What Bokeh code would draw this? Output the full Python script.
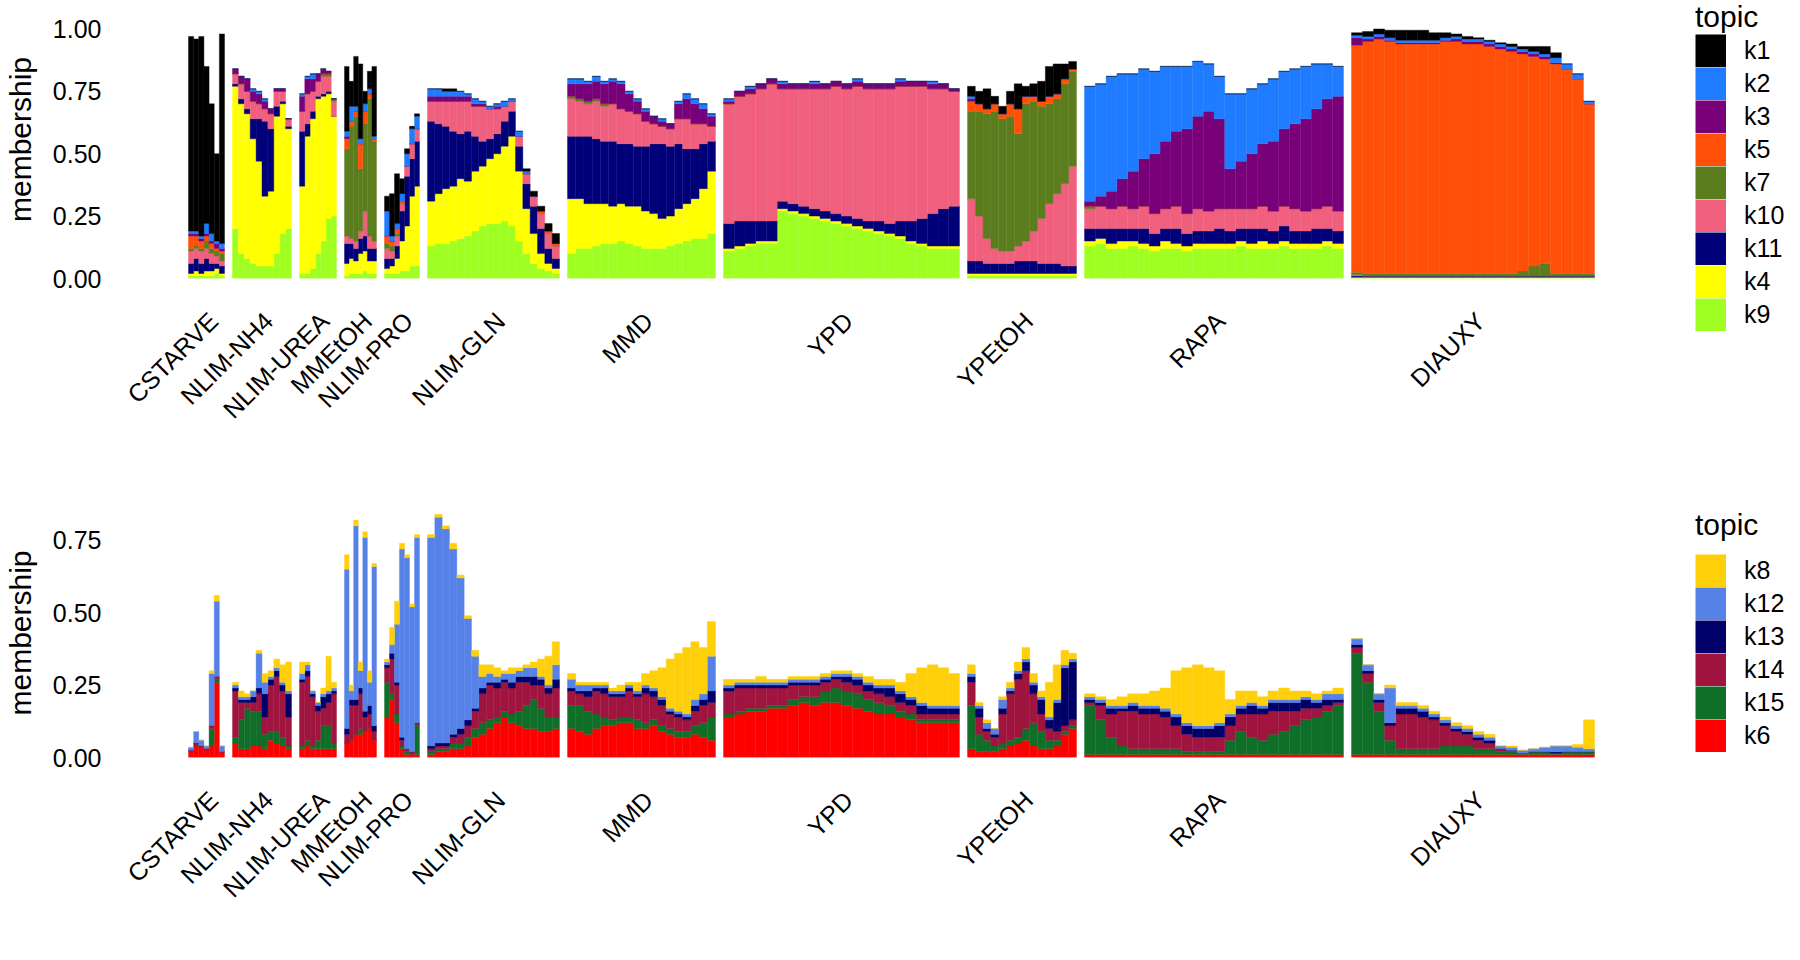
from math import pi
from bokeh.plotting import figure
from bokeh.models import Range1d, FixedTicker, Legend, LegendItem, NumeralTickFormatter, ColumnDataSource
from bokeh.layouts import column
from bokeh.embed import file_html
from bokeh.resources import INLINE

# ---------------- categories ----------------
groups = ["CSTARVE", "NLIM-NH4", "NLIM-UREA", "MMEtOH", "NLIM-PRO", "NLIM-GLN",
          "MMD", "YPD", "YPEtOH", "RAPA", "DIAUXY"]
group_sizes = [36, 59, 37, 32, 35, 132, 148, 236, 109, 259, 243]   # relative number of cells
group_gap = 8

# stacking order (bottom -> top) and legend order
top_stack = ["k9", "k4", "k11", "k10", "k7", "k5", "k3", "k2", "k1"]
top_legend = ["k1", "k2", "k3", "k5", "k7", "k10", "k11", "k4", "k9"]
bot_stack = ["k6", "k15", "k14", "k13", "k12", "k8"]
bot_legend = ["k8", "k12", "k13", "k14", "k15", "k6"]

topic_colors = {
    "k1": "#000000", "k2": "#1f7bff", "k3": "#780078", "k5": "#ff4f08",
    "k7": "#5b7d1e", "k10": "#f0607e", "k11": "#000078", "k4": "#ffff00",
    "k9": "#a0ff22", "k8": "#ffd00a", "k12": "#5682e8", "k13": "#000068",
    "k14": "#a0153f", "k15": "#0f6f28", "k6": "#ff0000",
}

# ---------------- top panel memberships: each row = one bar [k9,k4,k11,k10,k7,k5,k3,k2,k1] ----------------
top_CSTARVE = [
    [.01,.01,.04,.05,.01,.05,.01,.01,.78],
    [.01,.02,.05,.04,.01,.04,.01,.01,.77],
    [.01,.01,.04,.05,.01,.03,.01,.01,.80],
    [.01,.02,.05,.04,.03,.02,.01,.04,.63],
    [.01,.02,.03,.04,.02,.02,.01,.03,.52],
    [.02,.02,.02,.03,.02,.01,.02,.01,.35],
    [.01,.01,.03,.02,.03,.01,.01,.02,.84],
]
top_NH4 = [
    [.20,.57,.01,.04,0,0,.02,0,0],
    [.10,.60,.02,.06,0,0,.03,0,0],
    [.08,.58,.02,.07,0,0,.05,0,0],
    [.06,.50,.08,.07,0,0,.04,.01,0],
    [.05,.42,.17,.06,0,0,.04,.01,0],
    [.05,.28,.30,.05,0,0,.03,.01,0],
    [.05,.30,.25,.06,0,0,.02,0,0],
    [.10,.55,.04,.06,0,0,.01,0,0],
    [.18,.52,.01,.04,0,0,.01,0,0],
    [.20,.40,.01,.03,0,0,0,0,0],
]
top_UREA = [
    [.02,.35,.22,.08,0,0,.06,.01,0],
    [.02,.55,.05,.12,0,0,.06,.01,0],
    [.04,.60,.03,.08,0,0,.05,.02,0],
    [.10,.62,.01,.06,0,0,.03,0,0],
    [.15,.58,.01,.07,.01,0,.02,0,0],
    [.24,.50,.01,.06,.01,0,.01,0,0],
    [.25,.40,0,.06,.01,0,0,0,0],
]
top_MMEtOH = [
    [.01,.05,.08,.03,.35,.04,.01,.02,.26],
    [.02,.06,.06,.02,.45,.02,0,.06,.10],
    [.02,.05,.05,.03,.50,.02,0,.02,.20],
    [.02,.08,.06,.03,.25,.10,0,.02,.30],
    [.03,.08,.06,.10,.35,.05,0,.03,.05],
    [.02,.05,.05,.05,.55,.02,0,.02,.07],
    [.02,.05,.05,.03,.40,.01,0,.01,.28],
]
top_PRO = [
    [.02,.02,.04,.04,.02,.03,0,.10,.06],
    [.02,.03,.03,.03,.02,.02,0,.02,.17],
    [.02,.06,.05,.04,.01,.02,0,.02,.20],
    [.03,.12,.12,.03,0,.01,0,.03,.06],
    [.03,.18,.20,.04,0,0,0,.05,.02],
    [.05,.28,.15,.06,0,0,0,.06,.01],
    [.05,.32,.18,.05,0,0,0,.05,.01],
]
top_GLN = [
    [.13,.18,.32,.08,0,0,.02,.03,0],
    [.14,.20,.28,.09,0,0,.02,.03,0],
    [.14,.22,.25,.10,0,0,.02,.02,.01],
    [.15,.22,.22,.12,0,0,.02,.02,.01],
    [.16,.24,.18,.13,0,0,.02,.02,0],
    [.17,.22,.20,.12,0,0,.02,.01,0],
    [.19,.24,.14,.12,0,0,.01,.02,0],
    [.21,.24,.10,.14,0,0,.01,.01,0],
    [.22,.26,.08,.12,0,0,0,.01,0],
    [.22,.28,.08,.10,0,0,.01,.01,0],
    [.23,.30,.10,.06,0,0,0,.02,0],
    [.21,.36,.10,.04,0,0,0,.01,0],
    [.15,.28,.10,.04,0,0,0,.02,0],
    [.10,.18,.10,.04,0,0,0,.01,.01],
    [.06,.12,.11,.04,0,0,0,0,.02],
    [.04,.06,.10,.06,0,.01,0,0,.02],
    [.03,.03,.06,.06,0,.01,0,0,.03],
    [.02,.02,.04,.05,0,.01,0,0,.04],
]
top_MMD = [
    [.10,.22,.25,.15,.01,0,.05,.02,0],
    [.12,.20,.25,.14,.01,0,.06,.02,0],
    [.12,.18,.27,.13,.01,0,.07,.01,0],
    [.13,.17,.26,.15,.01,0,.07,.02,0],
    [.14,.16,.25,.14,.01,0,.08,.01,0],
    [.14,.15,.26,.15,0,0,.09,.01,0],
    [.15,.15,.24,.14,0,0,.10,.01,0],
    [.14,.15,.25,.13,0,0,.07,.01,0],
    [.13,.16,.24,.13,0,0,.05,.01,0],
    [.12,.15,.26,.10,0,0,.04,.01,0],
    [.12,.14,.28,.08,0,0,.03,0,0],
    [.12,.12,.30,.07,0,0,.02,.01,0],
    [.13,.12,.28,.07,0,0,.02,0,0],
    [.14,.14,.26,.10,0,0,.06,.01,0],
    [.15,.15,.22,.12,0,0,.08,.02,0],
    [.16,.16,.20,.10,0,0,.08,.02,0],
    [.16,.20,.18,.08,0,0,.06,.02,0],
    [.18,.25,.12,.06,0,0,.04,.01,0],
]
top_YPD = [
    [.11,.01,.10,.48,0,0,.01,.01,0],
    [.12,.01,.10,.50,0,0,.02,0,0],
    [.13,.01,.09,.51,0,0,.02,.01,0],
    [.14,.01,.08,.53,0,0,.02,0,0],
    [.14,.01,.08,.55,0,0,.02,0,0],
    [.27,.01,.03,.45,0,0,.02,.01,0],
    [.26,.01,.03,.46,0,0,.02,0,0],
    [.25,.01,.03,.47,0,0,.02,0,0],
    [.24,.01,.03,.48,0,0,.02,.01,0],
    [.23,.01,.03,.49,0,0,.02,0,0],
    [.22,.01,.03,.51,0,0,.02,0,0],
    [.21,.01,.03,.51,0,0,.02,0,0],
    [.20,.01,.03,.53,0,0,.02,.01,0],
    [.19,.01,.03,.53,0,0,.02,0,0],
    [.18,.01,.04,.53,0,0,.02,0,0],
    [.17,.01,.04,.54,0,0,.02,0,0],
    [.16,.01,.06,.54,0,0,.02,.01,0],
    [.14,.01,.08,.54,0,0,.02,0,0],
    [.13,.01,.10,.53,0,0,.02,0,0],
    [.12,.01,.13,.50,0,0,.02,.01,0],
    [.12,.01,.15,.48,0,0,.02,0,0],
    [.12,.01,.16,.46,0,0,.01,0,0],
]
top_YPEtOH = [
    [.01,.01,.05,.25,.35,.04,.01,.01,.04],
    [.01,.01,.05,.18,.42,.03,0,0,.05],
    [.01,.01,.04,.10,.50,.02,0,0,.08],
    [.01,.01,.04,.06,.55,.03,0,0,.03],
    [.01,.01,.04,.05,.53,.02,0,0,.03],
    [.01,.01,.04,.05,.54,.05,0,0,.05],
    [.01,.01,.05,.06,.45,.10,0,0,.10],
    [.01,.01,.05,.08,.55,.03,0,0,.04],
    [.01,.01,.05,.12,.52,.02,0,0,.05],
    [.01,.01,.04,.18,.45,.02,0,0,.08],
    [.01,.01,.04,.24,.40,.03,0,0,.12],
    [.01,.01,.04,.28,.38,.02,0,0,.12],
    [.01,.01,.03,.33,.40,.02,0,0,.06],
    [.01,.01,.03,.40,.38,.01,0,0,.03],
]
top_RAPA = [
    [.13,.02,.05,.08,.01,0,.02,.46,0],
    [.14,.02,.04,.09,0,0,.04,.45,0],
    [.12,.02,.06,.08,0,0,.07,.46,0],
    [.12,.03,.05,.09,0,0,.11,.42,0],
    [.13,.02,.05,.08,0,0,.15,.39,0],
    [.12,.02,.06,.09,0,0,.19,.36,0],
    [.11,.02,.05,.08,0,0,.24,.33,0],
    [.12,.03,.05,.08,0,0,.27,.30,0],
    [.12,.02,.06,.09,0,0,.30,.26,0],
    [.11,.02,.05,.08,0,0,.34,.25,0],
    [.12,.02,.05,.09,0,0,.37,.22,0],
    [.12,.02,.05,.08,0,0,.40,.19,0],
    [.12,.02,.06,.08,0,0,.36,.17,0],
    [.12,.02,.05,.09,0,0,.16,.30,0],
    [.13,.02,.05,.08,0,0,.19,.27,0],
    [.12,.02,.06,.08,0,0,.22,.26,0],
    [.12,.03,.05,.09,0,0,.25,.24,0],
    [.12,.02,.05,.08,0,0,.28,.25,0],
    [.13,.02,.06,.08,0,0,.31,.23,0],
    [.12,.02,.05,.09,0,0,.34,.22,0],
    [.12,.02,.05,.08,0,0,.37,.21,0],
    [.12,.02,.06,.08,0,0,.40,.18,0],
    [.13,.02,.05,.09,0,0,.43,.14,0],
    [.12,.02,.05,.08,0,0,.46,.12,0],
]
top_DIAUXY = [
    [.005,0,.005,.005,.01,.91,.03,.01,.01],
    [.005,0,.005,0,.01,.93,.01,.01,.02],
    [.005,0,.005,0,.01,.94,.01,.01,.02],
    [.005,0,.005,0,.01,.93,.005,.01,.03],
    [.005,0,.005,0,.01,.92,.005,.01,.04],
    [.005,0,.005,0,.01,.92,.005,.01,.04],
    [.005,0,.005,0,.01,.92,.005,.01,.04],
    [.005,0,.005,0,.01,.92,.005,.01,.03],
    [.005,0,.005,0,.01,.93,.005,.01,.02],
    [.005,0,.005,0,.01,.93,.01,.01,.01],
    [.005,0,.005,0,.01,.92,.01,.01,.01],
    [.005,0,.005,0,.01,.92,.01,.01,.005],
    [.005,0,.005,0,.01,.91,.01,.01,.005],
    [.005,0,.005,0,.01,.90,.01,.01,.005],
    [.005,0,.005,0,.01,.89,.01,.01,.01],
    [.005,0,.005,0,.02,.87,.01,.01,.01],
    [.005,0,.005,0,.04,.84,.01,.01,.02],
    [.005,0,.005,0,.05,.82,.01,.01,.03],
    [.005,0,.005,0,.01,.84,.005,.02,.02],
    [.005,0,.005,0,.01,.82,0,.02,0],
    [.005,0,.005,0,.01,.78,0,.02,0],
    [.005,0,.005,0,.01,.68,0,.01,0],
]

# ---------------- bottom panel memberships: each row = one bar [k6,k15,k14,k13,k12,k8] ----------------
bot_CSTARVE = [
    [.02,0,.005,0,.01,0],
    [.04,0,.01,0,.04,0],
    [.04,0,0,0,.02,0],
    [.03,0,0,0,.01,0],
    [.04,.06,.01,0,.18,.01],
    [.26,.01,.01,0,.26,.02],
    [.02,0,0,0,.02,0],
]
bot_NH4 = [
    [.05,.02,.16,.01,.01,.01],
    [.03,.10,.06,.01,.01,.02],
    [.03,.14,.02,.01,.01,.01],
    [.04,.12,.03,.02,.02,0],
    [.04,.12,.06,.02,.12,.01],
    [.03,.05,.06,.08,.04,.03],
    [.06,.03,.16,.02,.01,.02],
    [.05,.04,.19,.02,.01,.03],
    [.04,.03,.16,.02,.01,.06],
    [.03,.01,.10,.08,.01,.10],
]
bot_UREA = [
    [.03,.01,.22,.01,.02,.04],
    [.04,.02,.22,.02,.02,.01],
    [.03,.01,.17,.01,.01,0],
    [.03,.03,.10,.02,.01,0],
    [.03,.08,.06,.04,.01,.02],
    [.03,.08,.08,.03,.01,.12],
    [.03,.02,.17,.01,.01,.02],
]
bot_MMEtOH = [
    [.05,0,.03,.02,.55,.05],
    [.06,0,.12,.02,.03,.02],
    [.08,0,.10,.02,.60,.02],
    [.08,.02,.12,.02,.06,.03],
    [.09,0,.05,.02,.60,.02],
    [.10,0,.05,.03,.08,.04],
    [.06,0,.03,.02,.55,.01],
]
bot_PRO = [
    [.14,.12,.05,.01,.01,.01],
    [.20,.02,.12,.02,.03,.06],
    [.12,.03,.10,.01,.20,.08],
    [.03,.01,.02,.01,.65,.02],
    [.01,.01,.01,0,.66,.01],
    [.01,0,.01,0,.50,.01],
    [.01,.10,.01,0,.64,.01],
]
bot_GLN = [
    [.01,.01,.01,.01,.72,.01],
    [.02,.01,.01,.01,.78,.01],
    [.02,.01,.01,.01,.74,.01],
    [.03,.02,.02,.01,.64,.02],
    [.03,.02,.03,.02,.52,.01],
    [.04,.03,.04,.02,.35,.01],
    [.07,.03,.06,.01,.18,.02],
    [.08,.04,.10,.02,.04,.04],
    [.10,.03,.12,.01,.03,.03],
    [.12,.02,.10,.02,.02,.03],
    [.14,.02,.10,.01,.02,.01],
    [.12,.03,.09,.02,.03,.02],
    [.11,.05,.10,.02,.02,.01],
    [.10,.08,.08,.02,.03,.01],
    [.10,.10,.05,.03,.03,.02],
    [.09,.08,.08,.02,.01,.06],
    [.09,.05,.08,.02,.01,.10],
    [.10,.04,.10,.03,.05,.08],
]
bot_MMD = [
    [.10,.08,.05,.01,.03,.02],
    [.09,.09,.04,.01,.02,.01],
    [.08,.08,.05,.02,.02,.01],
    [.10,.05,.08,.01,.01,.01],
    [.11,.03,.08,.02,.01,.01],
    [.11,.02,.08,.01,.01,.01],
    [.12,.02,.07,.01,.01,.02],
    [.12,.02,.09,.01,.01,.01],
    [.10,.03,.08,.01,.01,.03],
    [.10,.02,.10,.02,.01,.04],
    [.11,.02,.08,.02,.01,.06],
    [.09,.02,.07,.02,.01,.10],
    [.08,.02,.05,.01,.01,.17],
    [.07,.02,.05,.01,.01,.20],
    [.07,.02,.04,.01,.01,.23],
    [.08,.03,.05,.02,.02,.20],
    [.07,.05,.06,.02,.02,.16],
    [.06,.08,.05,.04,.12,.12],
]
bot_YPD = [
    [.14,.01,.08,.01,.01,.02],
    [.15,.01,.08,.01,.01,.01],
    [.16,.01,.07,.01,.01,.01],
    [.16,.01,.07,.01,.01,.02],
    [.17,.01,.06,.01,.01,.01],
    [.17,.01,.06,.01,.01,.01],
    [.18,.02,.05,.01,.01,.01],
    [.19,.02,.04,.01,.01,.01],
    [.18,.03,.04,.01,.01,.01],
    [.19,.04,.03,.01,.01,.01],
    [.19,.05,.03,.01,.01,.01],
    [.18,.05,.03,.02,.01,.01],
    [.17,.05,.03,.02,.01,.01],
    [.16,.04,.03,.02,.01,.02],
    [.15,.04,.03,.02,.01,.02],
    [.15,.03,.03,.03,.01,.02],
    [.14,.02,.03,.03,.01,.03],
    [.13,.02,.03,.02,.01,.08],
    [.12,.01,.02,.03,.01,.12],
    [.12,.01,.02,.02,.01,.14],
    [.12,.01,.02,.02,.01,.13],
    [.12,.01,.02,.02,.01,.11],
]
bot_YPEtOH = [
    [.03,.15,.08,.02,.01,.03],
    [.02,.06,.06,.03,.01,.01],
    [.02,.04,.03,.01,.02,.01],
    [.02,.02,.03,.01,.02,0],
    [.03,.02,.10,.02,.03,.01],
    [.04,.02,.16,.01,.01,.02],
    [.05,.02,.20,.02,.01,.03],
    [.06,.04,.20,.03,.01,.04],
    [.04,.08,.10,.03,.01,.03],
    [.03,.06,.06,.05,.01,.02],
    [.03,.03,.04,.03,.01,.12],
    [.04,.02,.03,.10,.01,.12],
    [.08,.01,.02,.20,.01,.05],
    [.10,.01,.02,.20,.01,.02],
]
bot_RAPA = [
    [.01,.17,.01,.01,.01,.01],
    [.01,.12,.05,.01,.01,.01],
    [.01,.06,.08,.02,.01,.02],
    [.01,.03,.12,.01,.01,.03],
    [.01,.02,.13,.02,.01,.03],
    [.01,.02,.12,.02,.01,.04],
    [.01,.02,.12,.02,.01,.05],
    [.01,.02,.11,.02,.01,.07],
    [.01,.02,.08,.03,.01,.15],
    [.01,.01,.06,.03,.01,.19],
    [.01,.01,.05,.03,.01,.21],
    [.01,.01,.05,.03,.01,.20],
    [.01,.01,.05,.04,.01,.18],
    [.01,.05,.05,.03,.01,.05],
    [.01,.08,.06,.02,.01,.05],
    [.01,.06,.08,.03,.01,.04],
    [.01,.05,.09,.02,.01,.03],
    [.01,.07,.08,.03,.01,.03],
    [.01,.08,.07,.03,.01,.04],
    [.01,.10,.05,.03,.01,.03],
    [.01,.12,.04,.03,.01,.02],
    [.01,.13,.03,.02,.01,.02],
    [.01,.15,.02,.02,.02,.01],
    [.01,.17,.01,.01,.02,.02],
]
bot_DIAUXY = [
    [.01,.35,.02,.01,.02,0],
    [.01,.25,.03,.01,.02,0],
    [.01,.15,.03,.01,.02,0],
    [.01,.05,.05,.01,.12,.01],
    [.01,.02,.12,.02,.01,.01],
    [.01,.02,.12,.02,.01,.01],
    [.01,.02,.11,.02,.01,.01],
    [.01,.02,.10,.01,.01,.01],
    [.01,.03,.07,.01,.01,.01],
    [.01,.03,.05,.01,.01,.01],
    [.01,.03,.04,.01,.01,.01],
    [.01,.02,.03,.01,.01,.01],
    [.01,.02,.02,.01,.01,.01],
    [.01,.01,.01,0,.01,0],
    [.01,.01,.005,0,.01,.005],
    [.01,.005,0,0,.01,0],
    [.01,.01,0,0,.01,0],
    [.01,.01,0,0,.015,0],
    [.01,.005,0,.005,.02,0],
    [.01,.01,0,0,.02,0],
    [.01,.01,0,0,.015,.01],
    [.01,.01,0,0,.01,.10],
]

top_rows = [top_CSTARVE, top_NH4, top_UREA, top_MMEtOH, top_PRO, top_GLN,
            top_MMD, top_YPD, top_YPEtOH, top_RAPA, top_DIAUXY]
bot_rows = [bot_CSTARVE, bot_NH4, bot_UREA, bot_MMEtOH, bot_PRO, bot_GLN,
            bot_MMD, bot_YPD, bot_YPEtOH, bot_RAPA, bot_DIAUXY]

FONT = "Liberation Sans"
FRAME_W = 1585
X0 = -78
SWATCH_W, SWATCH_H = 31, 33


def group_starts():
    starts, x0 = [], 0.0
    for s in group_sizes:
        starts.append(x0)
        x0 += s + group_gap
    return starts


def stacked(rows_per_group, stack):
    data = {t: dict(left=[], right=[], bottom=[], top=[]) for t in stack}
    for x0, size, rows in zip(group_starts(), group_sizes, rows_per_group):
        w = size / len(rows)
        for i, row in enumerate(rows):
            base = 0.0
            for t, v in zip(stack, row):
                d = data[t]
                d["left"].append(x0 + i * w)
                d["right"].append(x0 + (i + 1) * w)
                d["bottom"].append(base)
                d["top"].append(base + v)
                base += v
    return data


def make_panel(rows_per_group, stack, legend_order, ymax, frame_h, yticks,
               border_top, border_bottom, title_standoff):
    p = figure(frame_width=FRAME_W, frame_height=frame_h,
               x_range=Range1d(X0, X0 + FRAME_W), y_range=Range1d(0, ymax),
               output_backend="svg", toolbar_location=None,
               min_border_left=109, min_border_right=0,
               min_border_top=border_top, min_border_bottom=border_bottom)
    p.outline_line_color = None
    p.xgrid.visible = False
    p.ygrid.visible = False
    p.background_fill_color = "white"
    p.border_fill_color = "white"

    data = stacked(rows_per_group, stack)
    swatches = {}
    for t in stack:
        c = topic_colors[t]
        p.quad(source=ColumnDataSource(data[t]), left="left", right="right",
               bottom="bottom", top="top", fill_color=c, line_color=c, line_width=0.4)
        # legend key only: a thick line (kept outside the visible ranges) fills the key box
        swatches[t] = p.line(x=[X0 - 500, X0 - 400], y=[-5, -5], line_color=c,
                             line_width=SWATCH_H, line_cap="butt")

    # x axis: group labels at group centers
    label_shift = 7
    centers = [int(round(s + sz / 2 + label_shift)) for s, sz in zip(group_starts(), group_sizes)]
    xa = p.xaxis[0]
    xa.ticker = FixedTicker(ticks=centers)
    xa.major_label_overrides = {c: g for c, g in zip(centers, groups)}
    xa.major_label_orientation = pi / 4
    xa.major_label_standoff = 32
    xa.axis_line_color = None
    xa.major_tick_line_color = None
    xa.minor_tick_line_color = None
    xa.major_label_text_font = FONT
    xa.major_label_text_font_size = "25px"
    xa.major_label_text_color = "black"

    ya = p.yaxis[0]
    ya.ticker = FixedTicker(ticks=yticks)
    ya.formatter = NumeralTickFormatter(format="0.00")
    ya.axis_line_color = None
    ya.major_tick_line_color = None
    ya.minor_tick_line_color = None
    ya.major_tick_out = 0
    ya.major_tick_in = 0
    ya.major_label_standoff = 9
    ya.major_label_text_font = FONT
    ya.major_label_text_font_size = "25px"
    ya.major_label_text_color = "black"
    ya.axis_label = "membership"
    ya.axis_label_text_font = FONT
    ya.axis_label_text_font_size = "30px"
    ya.axis_label_text_font_style = "normal"
    ya.axis_label_text_color = "black"
    ya.axis_label_standoff = 13

    items = [LegendItem(label=t, renderers=[swatches[t]]) for t in legend_order]
    leg = Legend(items=items, location="top_left", title="topic",
                 glyph_width=SWATCH_W, glyph_height=SWATCH_H, spacing=0, label_standoff=18,
                 label_height=SWATCH_H, padding=0, margin=0,
                 border_line_color=None, background_fill_alpha=0,
                 label_text_font=FONT, label_text_font_size="25px", label_text_color="black",
                 title_text_font=FONT, title_text_font_size="30px", title_text_font_style="normal",
                 title_text_color="black", title_standoff=title_standoff)
    p.add_layout(leg, "right")
    return p


# top: 1.0 sits 28 px below the frame top; bottom frame top sits at 0.86
p1 = make_panel(top_rows, top_stack, top_legend, 1.114, 278, [0, 0.25, 0.5, 0.75, 1.0], 0, 200, 0)
p2 = make_panel(bot_rows, bot_stack, bot_legend, 0.86, 249, [0, 0.25, 0.5, 0.75], 30, 190, 12)

layout = column(p1, p2, spacing=0)
open("out.html", "w").write(file_html(layout, INLINE))
